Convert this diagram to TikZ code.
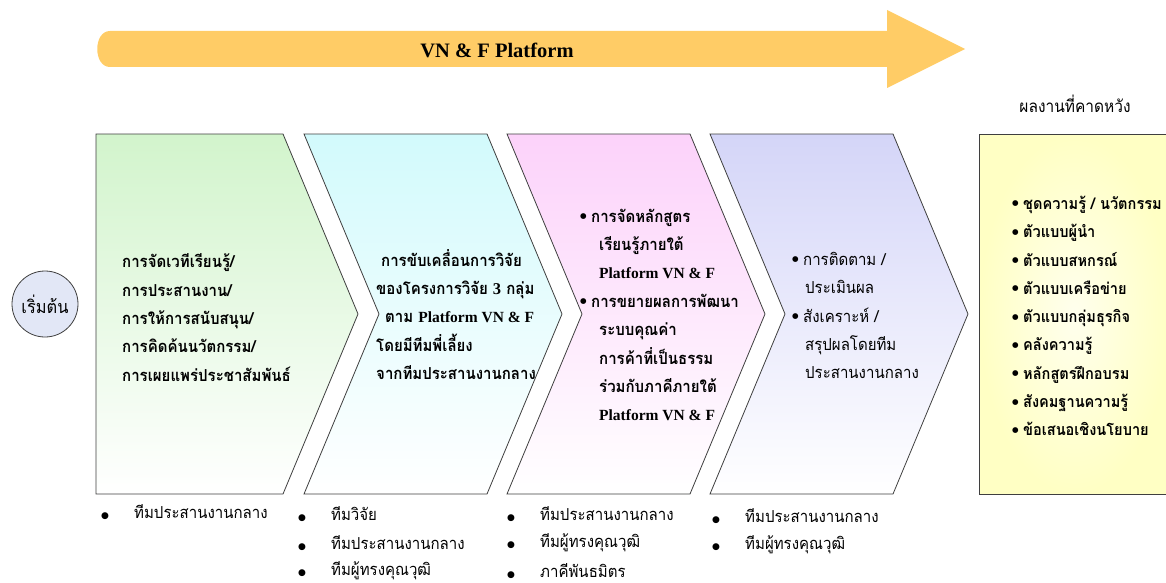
\documentclass[tikz,border=0pt]{standalone}
\usepackage{fontspec}
\newfontfamily\thai[Script=Thai,FakeStretch=0.91]{Loma}
\newfontfamily\lat{Liberation Serif}
\newfontfamily\dv{DejaVu Sans}
\definecolor{bordC}{HTML}{3F3F3F}
\definecolor{arrC}{HTML}{FFCC66}
\definecolor{grnC}{HTML}{D2F4CC}
\definecolor{cyaC}{HTML}{D2FAFC}
\definecolor{magC}{HTML}{FCD2FA}
\definecolor{lavC}{HTML}{D4D5F8}
\definecolor{yelC}{HTML}{FFFFC4}
\definecolor{cirC}{HTML}{E2E7F6}
\newcommand\pbul{\makebox[11pt][l]{\raisebox{3.5pt}{\dv\fontsize{7.5}{7.5}\selectfont ●}}}
\newcommand\bbul{\makebox[33pt][l]{\dv\fontsize{9}{9}\selectfont ●}}
\newcommand\platf{{\lat\fontsize{15.5}{28.4}\selectfont Platform VN \& F}}
\tikzset{
  panel/.style={draw=bordC, line width=0.8pt, shading angle=45},
  txtb/.style={font=\thai\bfseries\fontsize{16.5}{28.4}\selectfont, align=left, inner sep=0pt, anchor=west},
  txtr/.style={font=\thai\fontsize{16.5}{28.4}\selectfont, align=left, inner sep=0pt, anchor=west},
  lbl/.style={font=\thai\fontsize{16.5}{18}\selectfont, inner sep=0pt, anchor=west},
}
\begin{document}
\begin{tikzpicture}[x=1pt,y=-1pt]
\useasboundingbox (0,0) rectangle (1166,583);
% top arrow
\fill[arrC] (110,31) -- (887,31) -- (887,10) -- (965,49) -- (887,88) -- (887,67) -- (110,67)
  .. controls (93,67) and (93,31) .. (110,31) -- cycle;
\node[font=\lat\bfseries\fontsize{20.5}{24}\selectfont, inner sep=0pt] (plat) at (497,50) {VN \& F Platform};
% title right
\node[font=\thai\fontsize{17}{20}\selectfont, inner sep=0pt] (res) at (1075,104) {ผลงานที่คาดหวัง};
% start
\node[circle, draw=bordC, line width=0.8pt, fill=cirC, minimum size=66pt, inner sep=0pt,
  font=\thai\fontsize{18}{20}\selectfont] (start) at (45,304) {เริ่มต้น};
% panels
\path[panel, top color=grnC, bottom color=white] (96,134) -- (283,134) -- (358,314) -- (283,494) -- (96,494) -- cycle;
\path[panel, top color=cyaC, bottom color=white] (304,134) -- (487,134) -- (562,314) -- (487,494) -- (304,494) -- (379,314) -- cycle;
\path[panel, top color=magC, bottom color=white] (507,134) -- (690,134) -- (765,314) -- (690,494) -- (507,494) -- (582,314) -- cycle;
\path[panel, top color=lavC, bottom color=white] (710,134) -- (893,134) -- (968,314) -- (893,494) -- (710,494) -- (785,314) -- cycle;
\path[draw=bordC, line width=0.8pt, inner color=yelC!30, outer color=yelC] (979,134) rectangle (1170,494);
% panel texts
\node[txtb] (t1) at (122,317.5) {การจัดเวทีเรียนรู้/\\การประสานงาน/\\การให้การสนับสนุน/\\การคิดค้นนวัตกรรม/\\การเผยแพร่ประชาสัมพันธ์};
\node[txtb] (t2) at (376,314.5) {\hspace*{5pt}การขับเคลื่อนการวิจัย\\ของโครงการวิจัย {\lat 3} กลุ่ม\\\hspace*{9pt}ตาม \platf\\โดยมีทีมพี่เลี้ยง\\จากทีมประสานงานกลาง};
\node[txtb] (t3) at (580,315) {\pbul การจัดหลักสูตร\\\hspace*{19pt}เรียนรู้ภายใต้\\\hspace*{19pt}\platf\\\pbul การขยายผลการพัฒนา\\\hspace*{19pt}ระบบคุณค่า\\\hspace*{19pt}การค้าที่เป็นธรรม\\\hspace*{19pt}ร่วมกับภาคีภายใต้\\\hspace*{19pt}\platf};
\node[txtr] (t4) at (792,315.5) {\pbul การติดตาม /\\\hspace*{13pt}ประเมินผล\\\pbul สังเคราะห์ /\\\hspace*{13pt}สรุปผลโดยทีม\\\hspace*{13pt}ประสานงานกลาง};
\node[txtb, font=\thai\bfseries\fontsize{16}{28.3}\selectfont] (t5) at (1012,316) {\pbul ชุดความรู้ / นวัตกรรม\\\pbul ตัวแบบผู้นำ\\\pbul ตัวแบบสหกรณ์\\\pbul ตัวแบบเครือข่าย\\\pbul ตัวแบบกลุ่มธุรกิจ\\\pbul คลังความรู้\\\pbul หลักสูตรฝึกอบรม\\\pbul สังคมฐานความรู้\\\pbul ข้อเสนอเชิงนโยบาย};
% bottom labels
\node[lbl] (a1) at (101,512) {\bbul ทีมประสานงานกลาง};
\node[lbl] (b1) at (298,514) {\bbul ทีมวิจัย};
\node[lbl] (b2) at (298,543) {\bbul ทีมประสานงานกลาง};
\node[lbl] (b3) at (298,571) {\bbul ทีมผู้ทรงคุณวุฒิ};
\node[lbl] (c1) at (507,514) {\bbul ทีมประสานงานกลาง};
\node[lbl] (c2) at (507,543) {\bbul ทีมผู้ทรงคุณวุฒิ};
\node[lbl] (c3) at (507,571) {\bbul ภาคีพันธมิตร};
\node[lbl] (d1) at (712,516) {\bbul ทีมประสานงานกลาง};
\node[lbl] (d2) at (712,545) {\bbul ทีมผู้ทรงคุณวุฒิ};
\end{tikzpicture}
\end{document}
